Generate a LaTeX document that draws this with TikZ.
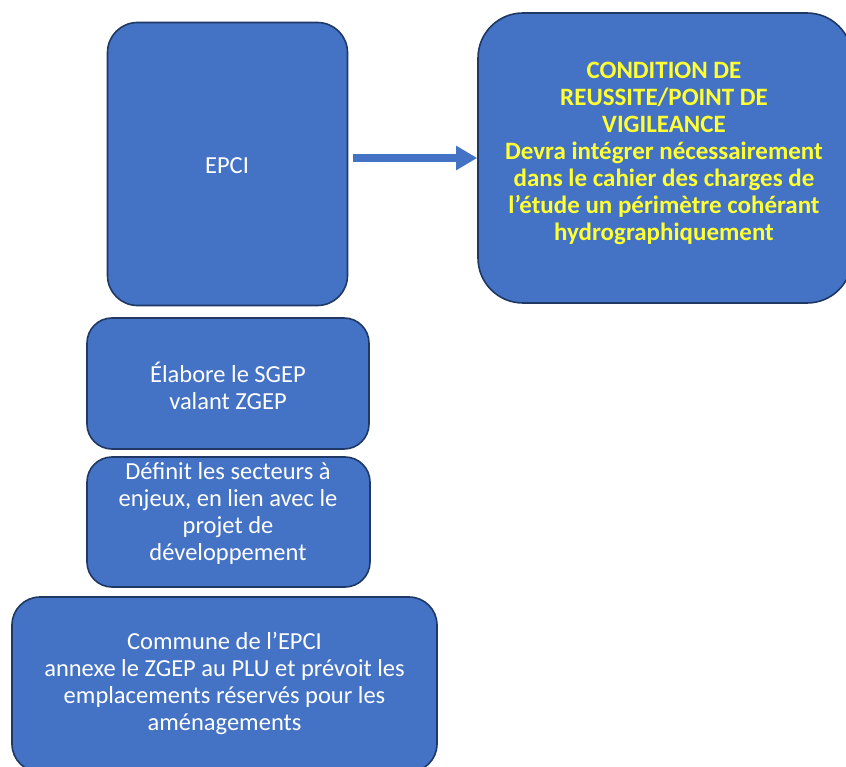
\documentclass[tikz,border=0pt]{standalone}
\usepackage{fontspec}
\setmainfont{Carlito}
\usetikzlibrary{arrows.meta}
\definecolor{boxfill}{HTML}{4472C4}
\definecolor{boxline}{HTML}{1F3864}
\definecolor{alertyellow}{HTML}{FFFF33}
\begin{document}
\begin{tikzpicture}[x=1pt,y=-1pt,
  blockbox/.style={draw=boxline, line width=1.6pt, fill=boxfill,
    rounded corners=#1, inner sep=0pt},
  blocktext/.style={text=white, align=center, inner sep=0pt,
    font=\fontsize{24.5}{27}\selectfont},
  alerttext/.style={blocktext, text=alertyellow, font=\bfseries\fontsize{25}{27}\selectfont},
  flowarrow/.style={draw=boxfill, line width=7.5pt,
    -{Triangle[length=21pt,width=23pt]}}]
\useasboundingbox (0,0) rectangle (846,767);
\clip (0,0) rectangle (846,767);

% boxes
\node[blockbox=30pt, minimum width=240pt, minimum height=283pt] (epci) at (227.5,164) {};
\node[blockbox=45pt, minimum width=374pt, minimum height=290pt] (cond) at (665,158) {};
\node[blockbox=25pt, minimum width=282pt, minimum height=131pt] (sgep) at (228,383.5) {};
\node[blockbox=25pt, minimum width=283pt, minimum height=130pt] (secteurs) at (228.5,522) {};
\node[blockbox=28pt, minimum width=425pt, minimum height=175pt] (commune) at (224.5,684.5) {};

% texts
\node[blocktext] (epcitxt) at (227,166) {EPCI};
\node[alerttext] (condtxt) at (664,153) {CONDITION DE\\REUSSITE/POINT DE\\VIGILEANCE\\Devra intégrer nécessairement\\dans le cahier des charges de\\l’étude un périmètre cohérant\\hydrographiquement};
\node[blocktext] (sgeptxt) at (228,386) {Élabore le SGEP\\valant ZGEP};
\node[blocktext] (secttxt) at (228,513) {Définit les secteurs à\\enjeux, en lien avec le\\projet de\\développement};
\node[blocktext] (comtxt) at (224.5,683) {Commune de l’EPCI\\annexe le ZGEP au PLU et prévoit les\\emplacements réservés pour les\\aménagements};

% connector
\draw[flowarrow, shorten <=5pt] (epci.east |- cond.west) -- (cond.west);
\end{tikzpicture}
\end{document}
